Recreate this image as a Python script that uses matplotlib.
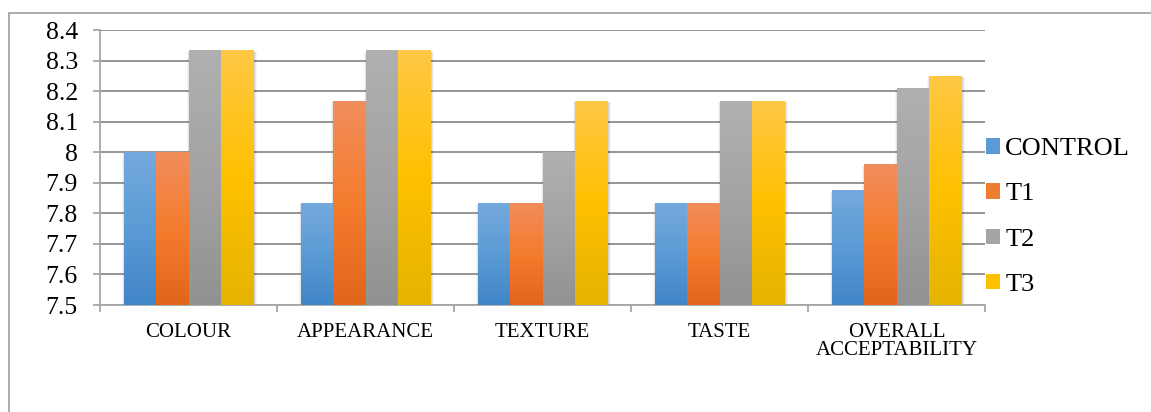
import numpy as np
import matplotlib
matplotlib.use('Agg')
import matplotlib.pyplot as plt
from matplotlib.colors import LinearSegmentedColormap
from matplotlib.patches import Patch, Rectangle

# data
categories = ['COLOUR', 'APPEARANCE', 'TEXTURE', 'TASTE', 'OVERALL\nACCEPTABILITY']
series = ['CONTROL', 'T1', 'T2', 'T3']
control = [8.0, 7.833, 7.833, 7.833, 7.875]
t1 = [8.0, 8.167, 7.833, 7.833, 7.96]
t2 = [8.333, 8.333, 8.0, 8.167, 8.21]
t3 = [8.333, 8.333, 8.167, 8.167, 8.25]
values = [control, t1, t2, t3]
yticks = [7.5, 7.6, 7.7, 7.8, 7.9, 8.0, 8.1, 8.2, 8.3, 8.4]
ytick_labels = ['7.5', '7.6', '7.7', '7.8', '7.9', '8', '8.1', '8.2', '8.3', '8.4']

# top, middle, bottom colours of the excel-style gradients
grads = [['#74a9dd', '#5b9bd5', '#4186c8'],
         ['#f18d5c', '#f47c2d', '#e2661a'],
         ['#b0b0b0', '#a3a3a3', '#929292'],
         ['#ffc845', '#ffc000', '#e5b400']]
legend_cols = ['#5b9bd5', '#ed7d31', '#a5a5a5', '#ffc000']

plt.rcParams['font.family'] = ['Liberation Serif', 'DejaVu Serif']

W, H = 1151, 412
fig = plt.figure(figsize=(W / 100, H / 100), dpi=100)
fig.patches.append(Rectangle((9 / W, -0.1), 1.2, 1 - 13 / H + 0.1, transform=fig.transFigure,
                             fill=False, edgecolor='#a6a6a6', linewidth=1.3))

ax = fig.add_axes([100 / W, 1 - 305 / H, 885 / W, 275 / H])
ymin, ymax = 7.5, 8.4
w = 0.1836
x = np.arange(len(categories))

for i, vals in enumerate(values):
    bars = ax.bar(x + (i - 1.5) * w, np.array(vals) - ymin, w, bottom=ymin,
                  color='none', linewidth=0, zorder=3)
    cmap = LinearSegmentedColormap.from_list('g%d' % i, grads[i][::-1])
    for b in bars:
        x0, y0 = b.get_x(), b.get_y()
        x1, y1 = x0 + b.get_width(), y0 + b.get_height()
        # soft shadow on the sides only
        for k, a in [(0.03, 0.04), (0.018, 0.06), (0.008, 0.08)]:
            ax.add_patch(Rectangle((x0 - k * 0.5 + 0.004, y0), b.get_width() + k, b.get_height() - 0.004,
                                   facecolor='#000000', alpha=a, linewidth=0, zorder=2))
        grad = np.linspace(0, 1, 100).reshape(-1, 1)
        im = ax.imshow(grad, extent=[x0, x1, y0, y1], origin='lower', cmap=cmap,
                       aspect='auto', zorder=3, interpolation='bilinear')
        im.set_clip_path(b)

ax.set_xlim(-0.5, len(categories) - 0.5)
ax.set_ylim(ymin, ymax)
ax.set_yticks(yticks)
ax.set_yticklabels(ytick_labels, fontsize=18.5)
ax.set_xticks(x)
ax.set_xticklabels(categories, fontsize=15, linespacing=0.95, va='top')
ax.set_xticks(np.arange(-0.5, len(categories)), minor=True)
ax.tick_params(axis='x', which='major', length=0, pad=13)
ax.tick_params(axis='x', which='minor', length=5, color='#a6a6a6', width=1.3)
ax.tick_params(axis='y', length=5, color='#a6a6a6', width=1.3, pad=11)
ax.grid(axis='y', color='#8c8c8c', linewidth=1.3, zorder=0)
ax.set_axisbelow(True)
for s in ['top', 'right']:
    ax.spines[s].set_visible(False)
for s in ['left', 'bottom']:
    ax.spines[s].set_color('#a6a6a6')
    ax.spines[s].set_linewidth(1.3)

handles = [Patch(facecolor=c, edgecolor='none') for c in legend_cols]
fig.legend(handles, series, loc='center left', bbox_to_anchor=(986 / W, 1 - 217 / H),
           frameon=False, fontsize=19, handlelength=0.53, handleheight=0.53,
           handletextpad=0.2, labelspacing=0.875, borderaxespad=0, borderpad=0)

fig.savefig('out.png', dpi=100)
